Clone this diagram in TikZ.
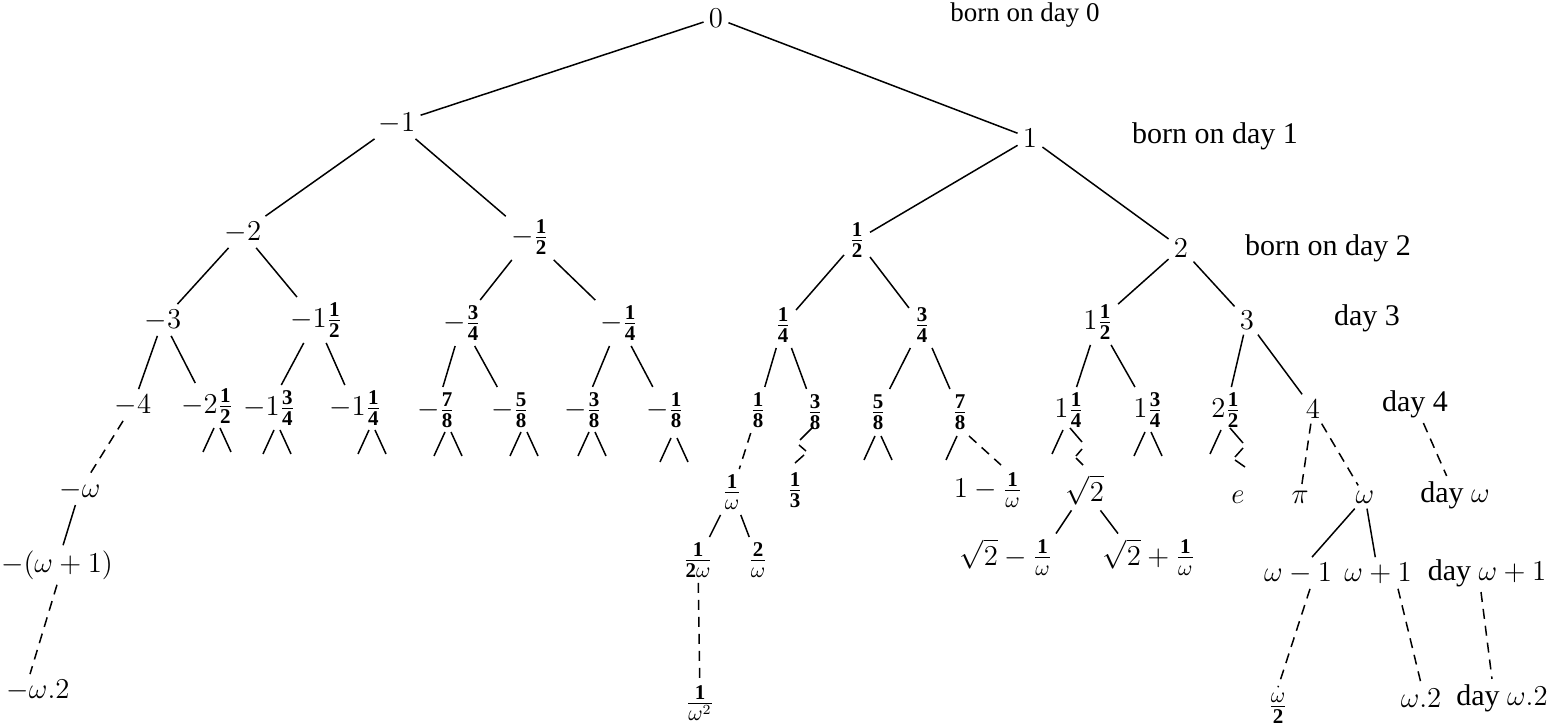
\documentclass[tikz,border=0pt]{standalone}
\usepackage{amsmath}
\usepackage{fontspec}
\setmainfont{Liberation Serif}
\usetikzlibrary{calc}
\newcommand\fr[2]{\tfrac{\mathbf{#1}}{\mathbf{#2}}}
\newcommand\stubs[3]{\draw[tline] ($(#1)+(#2-3,#3)$) -- ++(-11,24); \draw[tline] ($(#1)+(#2+3,#3)$) -- ++(11,24);}
\newcommand\stubl[3]{\draw[tline] ($(#1)+(#2-3,#3)$) -- ++(-11,24);}
\begin{document}
\begin{tikzpicture}[x=0.5pt,y=-0.5pt,
  every node/.style={inner sep=2.5pt,font=\fontsize{15}{18}\selectfont},
  tline/.style={line width=0.75pt},
  dline/.style={line width=0.75pt,dash pattern=on 5pt off 3.5pt}]
\useasboundingbox (0,0) rectangle (1547,726);
% level 0-2
\node (n0) at (716,18) {$0$};
\node (nm1) at (397,123) {$-1$};
\node (n1) at (1030,138) {$1$};
\node (nm2) at (243,232) {$-2$};
\node (nmh) at (530,237) {$-\fr12$};
\node (nh) at (857,240) {$\fr12$};
\node (n2) at (1181,248) {$2$};
% level 3
\node (nm3) at (163,320) {$-3$};
\node (nm32) at (316,320) {$-1\fr12$};
\node (nm34) at (462,323) {$-\fr34$};
\node (nm14) at (619,323) {$-\fr14$};
\node (n14) at (783,325) {$\fr14$};
\node (n34) at (922,325) {$\fr34$};
\node (n32) at (1098,322) {$1\fr12$};
\node (n3) at (1247,320) {$3$};
% level 4
\node (nm4) at (133,405) {$-4$};
\node (nm52) at (207,406) {$-2\fr12$};
\node (nm74) at (269,408) {$-1\fr34$};
\node (nm54) at (355,408) {$-1\fr14$};
\node (nm78) at (436,410) {$-\fr78$};
\node (nm58) at (510,410) {$-\fr58$};
\node (nm38) at (583,410) {$-\fr38$};
\node (nm18) at (665,410) {$-\fr18$};
\node (n18) at (758,410) {$\fr18$};
\node (n38) at (815,412) {$\fr38$};
\node (n58) at (878,412) {$\fr58$};
\node (n78) at (960,412) {$\fr78$};
\node (n54) at (1069,410) {$1\fr14$};
\node (n74) at (1148,410) {$1\fr34$};
\node (n52) at (1226,410) {$2\fr12$};
\node (n4) at (1313,409) {$4$};
% deeper
\node (nmw) at (80,490) {$-\omega$};
\node (nmw1) at (57,565) {$-(\omega+1)$};
\node (nmw2) at (38,690) {$-\omega.2$};
\node (n1w) at (732,492) {$\tfrac{\mathbf 1}{\omega}$};
\node (n13) at (795,490) {$\fr13$};
\node (n11w) at (988,490) {$1-\tfrac{\mathbf 1}{\omega}$};
\node (nsq) at (1085,490) {$\sqrt{2}$};
\node (ne) at (1238,497) {$e$};
\node (npi) at (1300,497) {$\pi$};
\node (nw) at (1365,497) {$\omega$};
\node (n12w) at (698,560) {$\tfrac{\mathbf 1}{\mathbf 2\omega}$};
\node (n2w) at (758,560) {$\tfrac{\mathbf 2}{\omega}$};
\node (nsqm) at (1006,557) {$\sqrt{2}-\tfrac{\mathbf 1}{\omega}$};
\node (nsqp) at (1149,557) {$\sqrt{2}+\tfrac{\mathbf 1}{\omega}$};
\node (nwm1) at (1298,573) {$\omega-1$};
\node (nwp1) at (1378,573) {$\omega+1$};
\node (n1w2) at (700,703) {$\tfrac{\mathbf 1}{\omega^2}$};
\node (nw2h) at (1278,708) {$\tfrac{\omega}{\mathbf 2}$};
\node (nw2) at (1421,698) {$\omega.2$};
% day labels
\node[font=\fontsize{13.5}{16}\selectfont] (d0) at (1025,15) {born on day 0};
\node (d1) at (1215,136) {born on day 1};
\node (d2) at (1328,248) {born on day 2};
\node (d3) at (1367,318) {day 3};
\node (d4) at (1415,404) {day 4};
\node (dw) at (1455,495) {day $\omega$};
\node (dw1) at (1487,573) {day $\omega+1$};
\node (dw2) at (1502,698) {day $\omega.2$};
% solid edges
\foreach \a/\b in {n0/nm1,n0/n1,nm1/nm2,nm1/nmh,n1/nh,n1/n2,
  nm2/nm3,nm2/nm32,nmh/nm34,nmh/nm14,nh/n14,nh/n34,n2/n32,n2/n3,
  nm3/nm4,nm3/nm52,nm32/nm74,nm32/nm54,nm34/nm78,nm34/nm58,nm14/nm38,nm14/nm18,
  n14/n18,n14/n38,n34/n58,n34/n78,n32/n54,n32/n74,n3/n52,n3/n4,
  nmw/nmw1,n1w/n12w,n1w/n2w,nw/nwm1,nw/nwp1}
  \draw[tline] (\a) -- (\b);
\draw[tline] (nsq) -- ($(nsqm.north)+(50,0)$);
\draw[tline] (nsq) -- ($(nsqp.north)+(-31,0)$);
% dashed edges
\draw[dline] (nm4) -- (nmw);
\draw[dline] (nmw1.south) -- ($(nmw2.north)+(-8,0)$);
\draw[dline] (n18) -- (n1w);
\draw[dline] (n12w) -- (n1w2);
\draw[dline] ($(n78)+(9,24)$) -- ($(n11w)+(13,-25)$);
\draw[dline] (n4) -- (npi);
\draw[dline] (n4) -- (nw);
\draw[dline] ($(nwm1.south)+(12,0)$) -- (nw2h.north);
\draw[dline] ($(nwp1.south)+(20,0)$) -- (nw2.north);
\draw[dline] (d4) -- (dw);
\draw[dline] ($(dw1.south)+(-6,0)$) -- ($(dw2.north)+(-10,0)$);
% stubs
\stubs{nm52}{10}{22}
\stubs{nm74}{8}{22}
\stubs{nm54}{17}{22}
\stubs{nm78}{12}{22}
\stubs{nm58}{14}{22}
\stubs{nm38}{9}{22}
\stubs{nm18}{9}{28}
\stubs{n58}{0}{24}
\stubs{n74}{0}{22}
\stubl{n78}{0}{24}
\stubl{n54}{-3}{20}
\stubl{n52}{-2}{20}
% zigzags
\draw[tline] ($(n38)+(-2,15)$) -- ++(-13,13);
\draw[tline] ($(n38)+(-16,33)$) -- ++(7,6);
\draw[tline] ($(n38)+(-11,43)$) -- ++(-9,8);
\draw[tline] ($(n54)+(1,18)$) -- ++(12,14);
\draw[tline] ($(n54)+(13,39)$) -- ++(-6,7) ++(0,2) -- ++(7,7);
\draw[tline] ($(n52)+(4,18)$) -- ++(13,15);
\draw[tline] ($(n52)+(17,38)$) -- ++(-8,9) ++(0,3) -- ++(10,7);
\end{tikzpicture}
\end{document}
